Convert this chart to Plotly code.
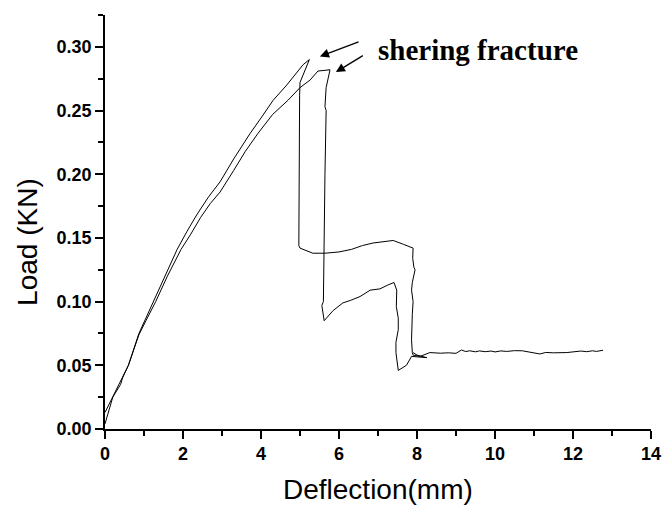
import plotly.graph_objects as go

# Load–deflection records of two specimens (deflection in mm, load in kN)
spec1_defl = [0.0, 0.25, 0.45, 0.6, 0.87, 1.05, 1.25, 1.55, 1.85, 2.1, 2.35, 2.65, 2.95,
              3.3, 3.72, 4.02, 4.31, 4.66, 4.9, 5.08, 5.24, 5.15, 5.0, 4.99, 4.98, 4.97,
              4.96, 4.97, 5.0, 5.33, 5.64, 6.0, 6.32, 6.6, 6.87, 7.1, 7.39, 7.65, 7.9,
              7.89, 7.92, 7.95, 7.88, 7.86, 7.9, 7.88, 7.86, 7.88, 7.9, 8.08, 8.33, 8.6,
              8.8, 9.0, 9.14, 9.25, 9.35, 9.5, 9.6, 9.75, 9.9, 10.0, 10.15, 10.3, 10.5,
              10.7, 10.9, 11.05, 11.15, 11.3, 11.5, 11.84, 12.0, 12.2, 12.35, 12.5, 12.6,
              12.77]
spec1_load = [0.013, 0.028, 0.040, 0.050, 0.075, 0.087, 0.100, 0.120, 0.141, 0.155, 0.168,
              0.182, 0.194, 0.212, 0.232, 0.245, 0.258, 0.270, 0.279, 0.286, 0.290, 0.283,
              0.272, 0.262, 0.220, 0.180, 0.150, 0.144, 0.142, 0.138, 0.138, 0.139, 0.141,
              0.144, 0.146, 0.147, 0.148, 0.145, 0.142, 0.134, 0.127, 0.125, 0.115, 0.109,
              0.100, 0.090, 0.070, 0.060, 0.058, 0.057, 0.060, 0.0595, 0.0598, 0.0594,
              0.0620, 0.0608, 0.0614, 0.0606, 0.0613, 0.0607, 0.0612, 0.0605, 0.0613,
              0.0609, 0.0615, 0.0614, 0.0605, 0.0598, 0.0589, 0.0601, 0.0598, 0.0600,
              0.0605, 0.0612, 0.0607, 0.0614, 0.0609, 0.0618]

spec2_defl = [0.0, 0.08, 0.2, 0.4, 0.45, 0.6, 0.87, 1.05, 1.3, 1.6, 1.95, 2.2, 2.45, 2.7,
              2.95, 3.3, 3.6, 3.92, 4.3, 4.69, 5.0, 5.26, 5.46, 5.77, 5.67, 5.64, 5.67,
              5.64, 5.62, 5.6, 5.56, 5.62, 5.85, 6.1, 6.3, 6.54, 6.8, 7.05, 7.25, 7.41,
              7.48, 7.47, 7.52, 7.52, 7.46, 7.46, 7.52, 7.62, 7.73, 7.86, 8.25, 8.0, 7.9]
spec2_load = [0.004, 0.012, 0.025, 0.035, 0.040, 0.050, 0.074, 0.085, 0.100, 0.120, 0.141,
              0.153, 0.166, 0.177, 0.186, 0.203, 0.218, 0.232, 0.247, 0.258, 0.268, 0.274,
              0.281, 0.282, 0.268, 0.253, 0.250, 0.200, 0.150, 0.100, 0.097, 0.085, 0.093,
              0.099, 0.101, 0.104, 0.109, 0.110, 0.113, 0.115, 0.109, 0.096, 0.087, 0.078,
              0.068, 0.060, 0.046, 0.048, 0.050, 0.057, 0.056, 0.058, 0.060]

x_ticks = [0, 2, 4, 6, 8, 10, 12, 14]
y_ticks = [0.00, 0.05, 0.10, 0.15, 0.20, 0.25, 0.30]
y_tick_text = ["0.00", "0.05", "0.10", "0.15", "0.20", "0.25", "0.30"]

fig = go.Figure()
for xs, ys in [(spec1_defl, spec1_load), (spec2_defl, spec2_load)]:
    fig.add_trace(go.Scatter(x=xs, y=ys, mode="lines",
                             line=dict(color="black", width=1), showlegend=False))

tick_font = dict(family="Liberation Sans, Arial", size=18, color="black", weight="bold")
axis_common = dict(showline=True, linecolor="black", linewidth=1.5, showgrid=False,
                   zeroline=False, ticks="outside", ticklen=8, tickwidth=1.5,
                   tickcolor="black", tickfont=tick_font, mirror=False,
                   automargin=False)

fig.update_xaxes(range=[0, 14], tickvals=x_ticks,
                 minor=dict(ticks="outside", ticklen=5, tickwidth=1.5, tickcolor="black",
                            dtick=1, tick0=0, showgrid=False),
                 **axis_common)
fig.update_yaxes(range=[0, 0.325], tickvals=y_ticks, ticktext=y_tick_text,
                 minor=dict(ticks="outside", ticklen=5, tickwidth=1.5, tickcolor="black",
                            dtick=0.025, tick0=0, showgrid=False),
                 **axis_common)

title_font = dict(family="Liberation Sans, Arial", size=28, color="black")
annotations = [
    dict(text="Deflection(mm)", xref="paper", yref="paper", x=0.5, y=-0.147,
         xanchor="center", yanchor="middle", showarrow=False, font=title_font),
    dict(text="Load (KN)", xref="paper", yref="paper", x=-0.141, y=0.452,
         xanchor="center", yanchor="middle", textangle=-90, showarrow=False,
         font=title_font),
    dict(text="shering fracture", xref="x", yref="y", x=6.94, y=0.2975,
         xanchor="left", yanchor="middle", showarrow=False,
         font=dict(family="Liberation Serif, Times New Roman", size=29, color="black",
                   weight="bold")),
    # arrows pointing at the two peak loads
    dict(text="", xref="x", yref="y", x=5.51, y=0.2925, axref="x", ayref="y",
         ax=6.54, ay=0.3043, showarrow=True, arrowhead=2, arrowsize=1.4,
         arrowwidth=1.3, arrowcolor="black"),
    dict(text="", xref="x", yref="y", x=5.92, y=0.2802, axref="x", ayref="y",
         ax=6.65, ay=0.2938, showarrow=True, arrowhead=2, arrowsize=1.4,
         arrowwidth=1.3, arrowcolor="black"),
]

fig.update_layout(width=664, height=509, margin=dict(l=105, r=13, t=15, b=80),
                  plot_bgcolor="white", paper_bgcolor="white",
                  annotations=annotations)

fig.write_html("out.html")
